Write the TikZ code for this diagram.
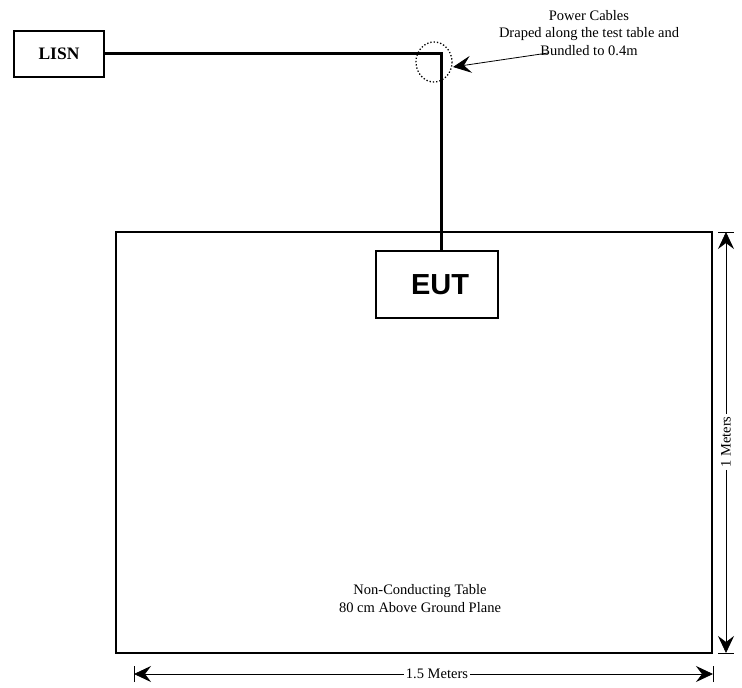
\documentclass[tikz,border=0pt]{standalone}
\usepackage{fontspec}
\setmainfont{Liberation Serif}
\newfontfamily\eutfont{Liberation Sans}
\usetikzlibrary{arrows.meta}

\tikzset{
  box/.style={draw, line width=2.7pt, inner sep=0pt},
  cable/.style={line width=3pt},
  note/.style={align=center, font=\fontsize{14.5}{17.5}\selectfont, inner sep=2pt},
  dimline/.style={line width=0.8pt, -{Stealth[length=17pt,width=16pt,inset=6pt]}},
  dimtick/.style={line width=0.8pt}
}

\begin{document}
\begin{tikzpicture}[x=1pt, y=-1pt]

\useasboundingbox (0,0) rectangle (742,688);

% Стол
\node[box, minimum width=596pt, minimum height=421pt] (table) at (414,442.5) {};
\node[note, font=\fontsize{14.5}{18}\selectfont] (tablelabel) at (420,599)
  {Non-Conducting Table\\80 cm Above Ground Plane};

% LISN и EUT
\node[box, minimum width=90pt, minimum height=46pt,
      font=\bfseries\fontsize{17.5}{17.5}\selectfont] (lisn) at (59,54) {LISN};
\node[box, minimum width=122pt, minimum height=67pt,
      font=\eutfont\bfseries\fontsize{29}{29}\selectfont] (eut) at (437,284.5)
  {\hspace*{6pt}EUT};

% Кабель питания
\coordinate (bend) at (441,53);
\draw[cable] (lisn.east |- bend) -- (bend) -- (bend |- eut.north);

% Пучок кабеля и выноска
\coordinate (bundle) at (434,62);
\draw[dotted, line width=1.3pt] (bundle) ellipse [x radius=18, y radius=20];
\node[note] (cables) at (589,33)
  {Power Cables\\Draped along the test table and\\Bundled to 0.4m};
\coordinate (callout) at (548,53);
\coordinate (tip) at (453,67);
\draw[line width=0.8pt, -{Stealth[length=18pt,width=17pt,inset=7pt]}] (callout) -- (tip);

% Размер 1 м
\coordinate (vtop) at (726,232);
\coordinate (vbot) at (726,653);
\node[note, rotate=90] (vlabel) at (726,442) {1 Meters};
\draw[dimline] (vlabel) -- (vtop);
\draw[dimline] (vlabel) -- (vbot);
\draw[dimtick] ([xshift=-8]vtop) -- ([xshift=8]vtop);
\draw[dimtick] ([xshift=-8]vbot) -- ([xshift=8]vbot);

% Размер 1.5 м
\coordinate (hleft) at (134,674);
\coordinate (hright) at (713,674);
\node[note] (hlabel) at (437,674) {1.5 Meters};
\draw[dimline] (hlabel) -- (hleft);
\draw[dimline] (hlabel) -- (hright);
\draw[dimtick] ([yshift=-8]hleft) -- ([yshift=8]hleft);
\draw[dimtick] ([yshift=-8]hright) -- ([yshift=8]hright);

\end{tikzpicture}
\end{document}
